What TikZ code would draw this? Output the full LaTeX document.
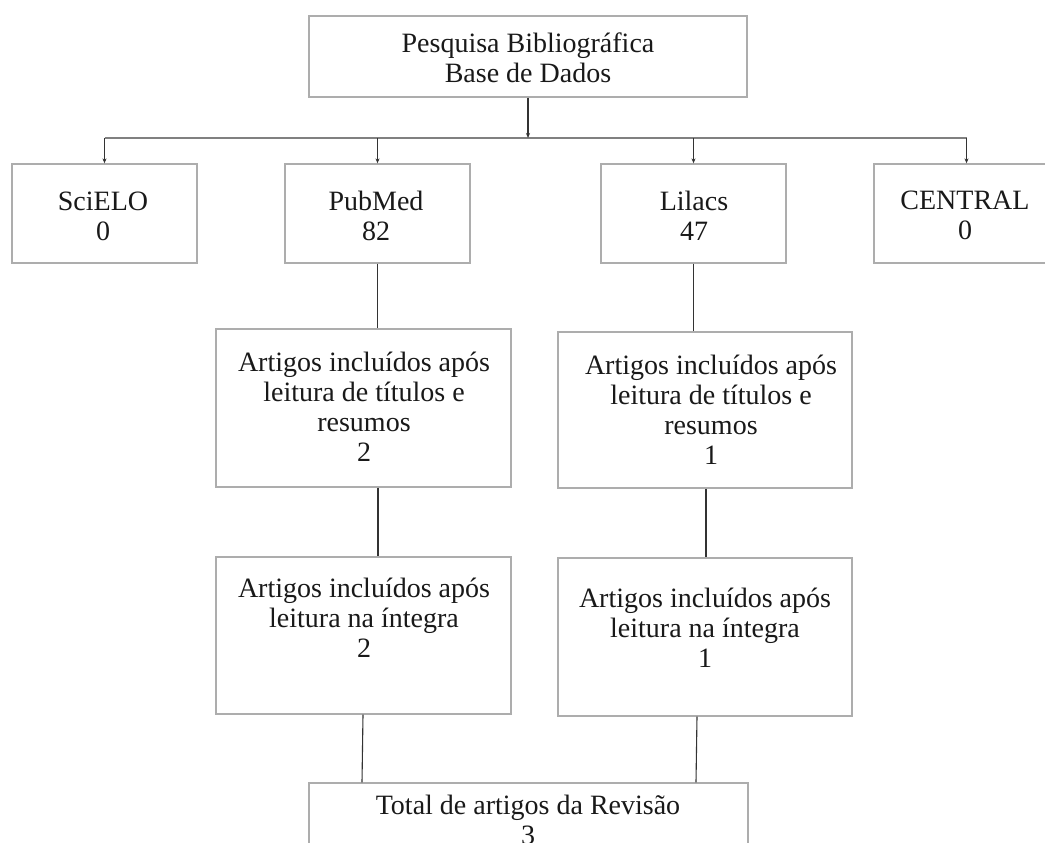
\documentclass[tikz,border=0pt]{standalone}
\usepackage{fontspec}
\setmainfont{Liberation Serif}
\usetikzlibrary{arrows.meta}
\tikzset{
  box/.style={draw=black!32, line width=1.3pt, fill=white, inner sep=0pt, rectangle},
  txt/.style={align=center, font=\fontsize{28}{30}\selectfont, inner sep=0pt, text=black!90},
  conn/.style={draw=black!80, line width=1.1pt},
  bus/.style={draw=black!50, line width=1.9pt},
  arr/.style={conn, -{Stealth[length=5pt,width=4pt]}}
}
\begin{document}
\begin{tikzpicture}[x=1pt,y=-1pt]
\useasboundingbox[fill=white] (0,0) rectangle (1045,843);
% boxes
\node[box, minimum width=438, minimum height=81] (top) at (528,56.5) {};
\node[box, minimum width=185, minimum height=99] (sci) at (104.5,213.5) {};
\node[box, minimum width=185, minimum height=99] (pub) at (377.5,213.5) {};
\node[box, minimum width=185, minimum height=99] (lil) at (693.5,213.5) {};
\node[box, minimum width=185, minimum height=99] (cen) at (966.5,213.5) {};
\node[box, minimum width=295, minimum height=158] (midL) at (363.5,408) {};
\node[box, minimum width=294, minimum height=156] (midR) at (705,410) {};
\node[box, minimum width=295, minimum height=157] (lowL) at (363.5,635.5) {};
\node[box, minimum width=294, minimum height=158] (lowR) at (705,637) {};
\node[box, minimum width=439, minimum height=100] (tot) at (528.5,833) {};
% texts
\node[txt] (topT) at (528,58) {Pesquisa Bibliográfica\\Base de Dados};
\node[txt] (sciT) at (103,216) {SciELO\\0};
\node[txt] (pubT) at (376,216) {PubMed\\82};
\node[txt] (lilT) at (694,216) {Lilacs\\47};
\node[txt] (cenT) at (965,215) {CENTRAL\\0};
\node[txt] (midLT) at (364,407) {Artigos incluídos após\\leitura de títulos e\\resumos\\2};
\node[txt] (midRT) at (711,410) {Artigos incluídos após\\leitura de títulos e\\resumos\\1};
\node[txt] (lowLT) at (364,618) {Artigos incluídos após\\leitura na íntegra\\2};
\node[txt] (lowRT) at (705,628) {Artigos incluídos após\\leitura na íntegra\\1};
\node[txt] (totT) at (528,820) {Total de artigos da Revisão\\3};
% bus
\coordinate (j) at (528,138);
\coordinate (b1) at (sci.north |- j);
\coordinate (b2) at (pub.north |- j);
\coordinate (b3) at (lil.north |- j);
\coordinate (b4) at (cen.north |- j);
\draw[bus] (b1) -- (b4);
\draw[arr] (top.south) -- (j);
\draw[arr] (b1) -- (sci.north);
\draw[arr] (b2) -- (pub.north);
\draw[arr] (b3) -- (lil.north);
\draw[arr] (b4) -- (cen.north);
% vertical connectors
\draw[conn] (pub.south) -- (pub.south |- midL.north);
\draw[conn] (lil.south) -- (lil.south |- midR.north);
\draw[conn] ([xshift=14.5]midL.south) -- ([xshift=14.5]midL.south |- lowL.north);
\draw[conn] ([xshift=1]midR.south) -- ([xshift=1]midR.south |- lowR.north);
\draw[conn] ([xshift=-0.5]lowL.south) -- ([xshift=-1.5]lowL.south |- tot.north);
\draw[conn] ([xshift=-8]lowR.south) -- ([xshift=-9]lowR.south |- tot.north);
\end{tikzpicture}
\end{document}
